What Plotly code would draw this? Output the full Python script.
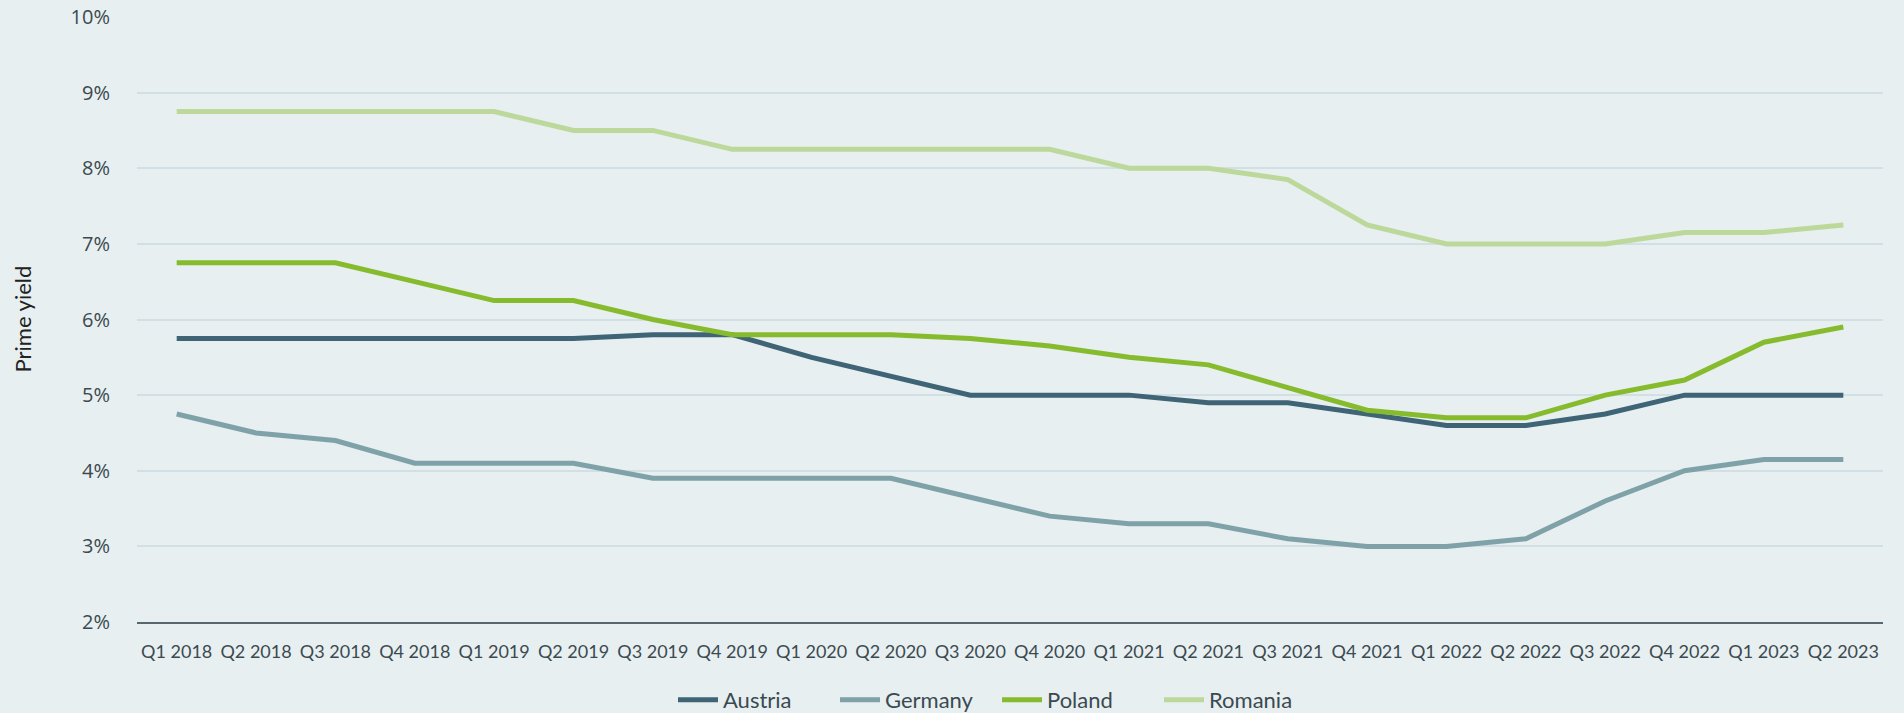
import plotly.graph_objects as go

quarters = ["Q1 2018", "Q2 2018", "Q3 2018", "Q4 2018",
            "Q1 2019", "Q2 2019", "Q3 2019", "Q4 2019",
            "Q1 2020", "Q2 2020", "Q3 2020", "Q4 2020",
            "Q1 2021", "Q2 2021", "Q3 2021", "Q4 2021",
            "Q1 2022", "Q2 2022", "Q3 2022", "Q4 2022",
            "Q1 2023", "Q2 2023"]

austria = [5.75, 5.75, 5.75, 5.75, 5.75, 5.75, 5.8, 5.8, 5.5, 5.25, 5.0,
           5.0, 5.0, 4.9, 4.9, 4.75, 4.6, 4.6, 4.75, 5.0, 5.0, 5.0]
germany = [4.75, 4.5, 4.4, 4.1, 4.1, 4.1, 3.9, 3.9, 3.9, 3.9, 3.65,
           3.4, 3.3, 3.3, 3.1, 3.0, 3.0, 3.1, 3.6, 4.0, 4.15, 4.15]
poland = [6.75, 6.75, 6.75, 6.5, 6.25, 6.25, 6.0, 5.8, 5.8, 5.8, 5.75,
          5.65, 5.5, 5.4, 5.1, 4.8, 4.7, 4.7, 5.0, 5.2, 5.7, 5.9]
romania = [8.75, 8.75, 8.75, 8.75, 8.75, 8.5, 8.5, 8.25, 8.25, 8.25, 8.25,
           8.25, 8.0, 8.0, 7.85, 7.25, 7.0, 7.0, 7.0, 7.15, 7.15, 7.25]

y_ticks = [2, 3, 4, 5, 6, 7, 8, 9, 10]
y_tick_labels = [f"{v}%" for v in y_ticks]

series = [
    ("Austria", austria, "#3e6475"),
    ("Germany", germany, "#7fa2a8"),
    ("Poland", poland, "#86bb2d"),
    ("Romania", romania, "#bdd89b"),
]

text_color = "#3b4a50"
human = "Lato, Carlito, Calibri, sans-serif"

fig = go.Figure()
for name, vals, color in series:
    fig.add_trace(go.Scatter(
        x=quarters, y=vals, name=name, mode="lines",
        line=dict(color=color, width=5),
    ))

fig.update_layout(
    width=1904, height=713,
    paper_bgcolor="#e7eff1",
    plot_bgcolor="#e7eff1",
    margin=dict(l=137, r=21, t=17, b=91, autoexpand=False),
    showlegend=True,
    legend=dict(
        orientation="h", x=(673 - 137) / 1746, xanchor="left",
        yref="container", y=(713 - 700) / 713, yanchor="middle",
        font=dict(family=human, size=22, color=text_color),
        bgcolor="rgba(0,0,0,0)", itemwidth=40,
        entrywidth=107, entrywidthmode="pixels",
    ),
    xaxis=dict(
        type="category", range=[-0.5, len(quarters) - 0.5],
        showgrid=False, showline=True, linecolor="#56686e", linewidth=2,
        ticks="outside", ticklen=12, tickcolor="rgba(0,0,0,0)",
        tickfont=dict(family=human, size=18, color=text_color),
        tickangle=0, zeroline=False, automargin=False,
    ),
    yaxis=dict(
        range=[2, 10], tickvals=y_ticks, ticktext=y_tick_labels,
        showgrid=True, gridcolor="#d2dfe5", gridwidth=1.5,
        zeroline=False, showline=False,
        ticks="outside", ticklen=22, tickcolor="rgba(0,0,0,0)",
        tickfont=dict(family="Open Sans, sans-serif", size=20, color=text_color),
        automargin=False,
    ),
    annotations=[dict(
        text="Prime yield", xref="paper", yref="paper",
        x=-(137 - 22) / 1746, y=0.5, xanchor="center", yanchor="middle",
        textangle=-90, showarrow=False,
        font=dict(family=human, size=22, color="#222222"),
    )],
)

fig.write_html(
    "out.html",
    config={"displayModeBar": False},
    post_script="document.body.style.margin='0';document.body.style.overflow='hidden';",
)
